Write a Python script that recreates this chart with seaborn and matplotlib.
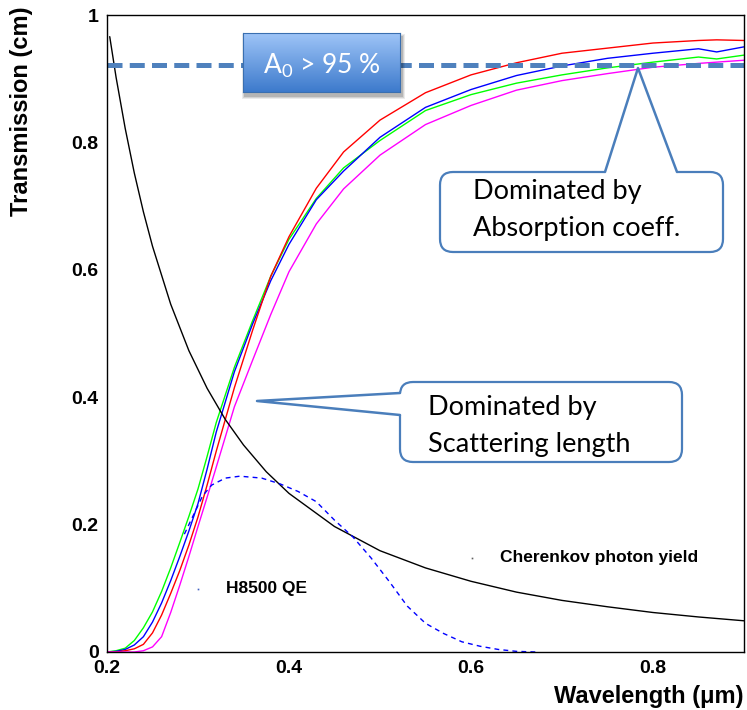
import matplotlib
matplotlib.use('Agg')
import numpy as np
import matplotlib.pyplot as plt
import seaborn as sns
from matplotlib.patches import FancyBboxPatch, Polygon, Rectangle
from matplotlib.lines import Line2D
from matplotlib.transforms import Affine2D

# wavelength grid (um) for the four transmission curves
wl = [0.20, 0.21, 0.22, 0.23, 0.24, 0.25, 0.26, 0.27, 0.28, 0.29, 0.30, 0.31, 0.32,
      0.34, 0.36, 0.38, 0.40, 0.43, 0.46, 0.50, 0.55, 0.60, 0.65, 0.70, 0.75, 0.80,
      0.85, 0.87, 0.90]
t_green = [0.0, 0.002, 0.006, 0.018, 0.038, 0.063, 0.095, 0.132, 0.172, 0.213, 0.256, 0.307, 0.36,
           0.447, 0.52, 0.59, 0.648, 0.712, 0.76, 0.803, 0.85, 0.875, 0.893, 0.906, 0.917, 0.926,
           0.934, 0.931, 0.937]
t_blue = [0.0, 0.001, 0.004, 0.011, 0.024, 0.047, 0.077, 0.112, 0.15, 0.19, 0.233, 0.287, 0.345,
          0.44, 0.515, 0.583, 0.64, 0.71, 0.755, 0.808, 0.855, 0.883, 0.905, 0.92, 0.932, 0.940,
          0.947, 0.942, 0.950]
t_red = [0.0, 0.0, 0.002, 0.005, 0.012, 0.03, 0.058, 0.092, 0.128, 0.168, 0.212, 0.262, 0.315,
         0.415, 0.505, 0.59, 0.652, 0.728, 0.785, 0.835, 0.878, 0.906, 0.925, 0.94, 0.948, 0.956,
         0.96, 0.961, 0.96]
t_magenta = [0.0, 0.0, 0.0, 0.0, 0.002, 0.008, 0.024, 0.062, 0.105, 0.15, 0.197, 0.243, 0.29,
             0.385, 0.458, 0.53, 0.597, 0.672, 0.727, 0.78, 0.828, 0.858, 0.882, 0.897, 0.908, 0.918,
             0.924, 0.926, 0.929]

# Cherenkov photon yield (black)
ck_wl = [0.203, 0.21, 0.22, 0.23, 0.24, 0.25, 0.27, 0.29, 0.31, 0.33, 0.35, 0.375,
         0.40, 0.45, 0.50, 0.55, 0.60, 0.65, 0.70, 0.75, 0.80, 0.85, 0.90]
ck_y = [0.966, 0.902, 0.822, 0.752, 0.691, 0.637, 0.546, 0.473, 0.414, 0.365, 0.325, 0.283,
        0.249, 0.197, 0.159, 0.132, 0.111, 0.094, 0.081, 0.071, 0.062, 0.055, 0.049]

# H8500 QE (blue dashed)
qe_wl = [0.285, 0.295, 0.305, 0.315, 0.33, 0.346, 0.37, 0.39, 0.41, 0.43, 0.45, 0.47,
         0.49, 0.51, 0.53, 0.55, 0.57, 0.59, 0.61, 0.63, 0.65, 0.672]
qe_y = [0.185, 0.215, 0.245, 0.262, 0.273, 0.276, 0.273, 0.264, 0.252, 0.236, 0.207, 0.181,
        0.148, 0.111, 0.072, 0.045, 0.029, 0.016, 0.009, 0.004, 0.001, 0.0]

a0_level = 0.922
x_ticks = [0.2, 0.4, 0.6, 0.8]
y_ticks = [0, 0.2, 0.4, 0.6, 0.8, 1]
y_ticklabels = ['0', '0.2', '0.4', '0.6', '0.8', '1']

W, H = 747, 710
sns.set_style('white')
plt.rcParams['font.family'] = ['Liberation Sans', 'DejaVu Sans']
plt.rcParams['text.color'] = 'black'
plt.rcParams['axes.labelcolor'] = 'black'
plt.rcParams['xtick.color'] = 'black'
plt.rcParams['ytick.color'] = 'black'
plt.rcParams['mathtext.fontset'] = 'custom'
plt.rcParams['mathtext.rm'] = 'Lato'

fig = plt.figure(figsize=(W / 100, H / 100), dpi=100)
ax = fig.add_axes([107 / W, 1 - 652 / H, 637 / W, 637 / H])

sns.lineplot(x=wl, y=t_green, color='#00ff00', lw=1.0, ax=ax)
sns.lineplot(x=wl, y=t_blue, color='#0000ff', lw=1.0, ax=ax)
sns.lineplot(x=wl, y=t_red, color='#ff0000', lw=1.0, ax=ax)
sns.lineplot(x=wl, y=t_magenta, color='#ff00ff', lw=1.0, ax=ax)
sns.lineplot(x=ck_wl, y=ck_y, color='black', lw=1.0, ax=ax)
sns.lineplot(x=qe_wl, y=qe_y, color='#0000ff', lw=1.0, ax=ax)
ax.lines[-1].set_dashes((3.5, 3))
ax.axhline(a0_level, color='#4f81bd', lw=3.6, dashes=(3, 1.45), dash_capstyle='butt')

# tiny legend-ish markers
ax.plot([0.3], [0.099], 's', color='#4060c0', ms=1.2, mew=0)
ax.plot([0.601], [0.148], 's', color='#606060', ms=1.2, mew=0)

ax.text(0.331, 0.099, 'H8500 QE', fontsize=12.5, fontweight='bold', va='center', color='black')
ax.text(0.632, 0.148, 'Cherenkov photon yield', fontsize=12.5, fontweight='bold',
        va='center', color='black')

ax.set_xlim(0.2, 0.9)
ax.set_ylim(0, 1)
ax.set_xticks(x_ticks)
ax.set_xticklabels([str(v) for v in x_ticks])
ax.set_yticks(y_ticks)
ax.set_yticklabels(y_ticklabels)
ax.tick_params(direction='in', length=12, width=1, pad=6, labelsize=14,
               top=False, right=False, colors='black')
for lab in ax.get_xticklabels() + ax.get_yticklabels():
    lab.set_fontweight('bold')
for s in ax.spines.values():
    s.set_color('black')
    s.set_linewidth(1.0)
ax.set_xlabel('')
ax.set_ylabel('')

fig.text(743 / W, 1 - 697 / H, 'Wavelength (μm)', fontsize=17, fontweight='bold',
         ha='right', va='center', color='black')
fig.text(22 / W, 1 - 7 / H, 'Transmission (cm)', fontsize=17, fontweight='bold',
         rotation=90, ha='center', va='top', color='black')

# pixel transform (origin top-left)
pix = Affine2D().scale(1, -1).translate(0, H)
edge = '#4a7ebb'

# A0 box: shadow + gradient
for i, a in enumerate([0.08, 0.1, 0.14]):
    g = 3 - i
    fig.add_artist(Rectangle((243 + 2 - g, 33 + 4 - g), 157 + 2 * g, 59 + 2 * g,
                             transform=pix, color='black', alpha=a, lw=0, zorder=0.5))
bax = fig.add_axes([243 / W, 1 - 92 / H, 157 / W, 59 / H], zorder=1)
top_c = np.array([0.62, 0.77, 0.97])
bot_c = np.array([0.24, 0.48, 0.80])
grad = np.linspace(0, 1, 100)[:, None, None] * (bot_c - top_c) + top_c
bax.imshow(np.repeat(grad, 2, axis=1), aspect='auto', extent=[0, 1, 0, 1], origin='upper')
bax.set_xticks([])
bax.set_yticks([])
for s in bax.spines.values():
    s.set_color('#3a6fb0')
    s.set_linewidth(0.8)
bax.text(0.5, 0.32, 'A$_0$ > 95 %', color='white', fontsize=19, family='Lato',
         ha='center', va='baseline', transform=bax.transAxes)


def callout(box, tri, lines, texts):
    x0, y0, x1, y1 = box
    fig.add_artist(FancyBboxPatch((x0, y0), x1 - x0, y1 - y0,
                                  boxstyle='round,pad=0,rounding_size=13',
                                  transform=pix, fc='white', ec=edge, lw=1.6, zorder=2))
    fig.add_artist(Polygon(tri, closed=True, transform=pix, fc='white', ec='none', zorder=2.1))
    lx, ly = zip(*lines)
    fig.add_artist(Line2D(lx, ly, transform=pix, color=edge, lw=1.8, zorder=2.2))
    for tx, ty, s in texts:
        fig.text(tx / W, 1 - ty / H, s, fontsize=19.5, family='Lato', color='black',
                 ha='left', va='baseline', zorder=3)


callout((440, 172, 723, 252),
        [(604, 175), (638, 68), (678, 175)],
        [(605, 172), (638, 68), (677, 172)],
        [(473, 199, 'Dominated by'), (473, 236, 'Absorption coeff.')])
callout((400, 382, 682, 462),
        [(403, 392.8), (257, 401), (403, 415.3)],
        [(400, 393), (257, 401), (400, 415)],
        [(428, 415, 'Dominated by'), (428, 452, 'Scattering length')])

fig.savefig('out.png', dpi=100)
